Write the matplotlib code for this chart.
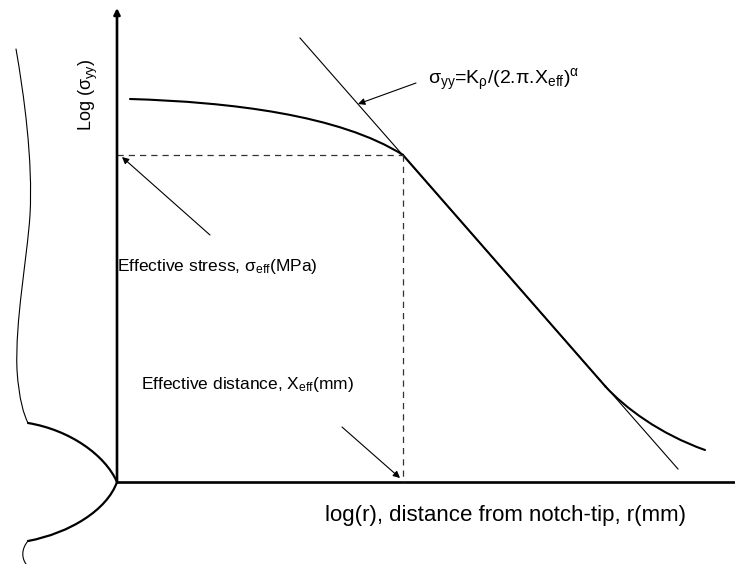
import matplotlib.pyplot as plt
from matplotlib.path import Path
from matplotlib.patches import PathPatch

plt.rcParams['font.family'] = ['Liberation Sans', 'DejaVu Sans']
plt.rcParams['mathtext.fontset'] = 'custom'
plt.rcParams['mathtext.rm'] = 'Liberation Sans'
plt.rcParams['mathtext.it'] = 'Liberation Sans:italic'
plt.rcParams['mathtext.default'] = 'rm'

# schematic coordinates (drawing units, y grows downward)
origin = (117, 482)
axis_top = 8
axis_right = 735

# stress curve: flat near-tip part, straight power-law part, tail
curve_head = [(130, 99), (230, 102), (340, 115), (403, 155)]
curve_line_end = (605, 386)
curve_tail = [(605, 386), (625, 408), (660, 434), (705, 450)]

# tangent line sigma_yy = K/(2.pi.X)^alpha
tangent = [(300, 38), (678, 469)]

# effective point
x_eff, s_eff = 403, 155

# notch contour
notch_upper = [(28, 423), (70, 430), (105, 455), (117, 482)]
notch_lower = [(117, 482), (107, 510), (70, 533), (28, 541)]
edge_top = [(16, 49), (24, 95), (33, 160), (30, 215),
            (27, 260), (15, 320), (17, 370),
            (19, 400), (24, 415), (28, 423)]
edge_bottom = [(28, 541), (22, 548), (21, 557), (26, 564)]

fig = plt.figure(figsize=(7.35, 5.64), dpi=100)
ax = fig.add_axes([0, 0, 1, 1])
ax.set_xlim(0, 735)
ax.set_ylim(564, 0)
ax.axis('off')


def bezier(ax, pts, lw):
    codes = [Path.MOVETO] + [Path.CURVE4] * (len(pts) - 1)
    ax.add_patch(PathPatch(Path(pts, codes), fc='none', ec='black', lw=lw,
                           capstyle='round'))


# axes
ax.plot([origin[0], axis_right], [origin[1], origin[1]], color='black', lw=1.9)
ax.annotate('', xy=(origin[0], axis_top), xytext=origin,
            arrowprops=dict(arrowstyle='-|>', lw=1.9, color='black',
                            mutation_scale=9, shrinkA=0, shrinkB=0))

# stress distribution
bezier(ax, curve_head, 1.5)
ax.plot([curve_head[-1][0], curve_line_end[0]],
        [curve_head[-1][1], curve_line_end[1]], color='black', lw=1.5)
bezier(ax, curve_tail, 1.5)
ax.plot(*zip(*tangent), color='black', lw=0.8)

# effective stress / distance guides
ax.plot([origin[0], x_eff], [s_eff, s_eff], color='#333333', lw=0.9,
        dashes=(5, 4))
ax.plot([x_eff, x_eff], [s_eff, origin[1]], color='#333333', lw=0.9,
        dashes=(5, 4))

# notch
bezier(ax, notch_upper, 1.6)
bezier(ax, notch_lower, 1.6)
bezier(ax, edge_top, 0.8)
bezier(ax, edge_bottom, 0.8)

arrow = dict(arrowstyle='-|>', lw=0.8, color='black', mutation_scale=10,
             shrinkA=0, shrinkB=0)
ax.annotate('', xy=(122, 157), xytext=(210, 235), arrowprops=arrow)
ax.annotate('', xy=(358, 104), xytext=(416, 83), arrowprops=arrow)
ax.annotate('', xy=(400, 478), xytext=(342, 427), arrowprops=arrow)

# labels
ax.text(88, 95, 'Log (σ$_{yy}$)', rotation=90, fontsize=13,
        ha='center', va='center')
ax.text(428, 80, 'σ$_{yy}$=K$_{ρ}$/(2.π.X$_{eff}$)$^{α}$', fontsize=14,
        ha='left', va='center')
ax.text(117, 267, 'Effective stress, σ$_{eff}$(MPa)', fontsize=12.5,
        ha='left', va='center')
ax.text(141, 385, 'Effective distance, X$_{eff}$(mm)', fontsize=12.5,
        ha='left', va='center')
ax.text(325, 515, 'log(r), distance from notch-tip, r(mm)', fontsize=16,
        ha='left', va='center')

fig.savefig('out.png', dpi=100)
